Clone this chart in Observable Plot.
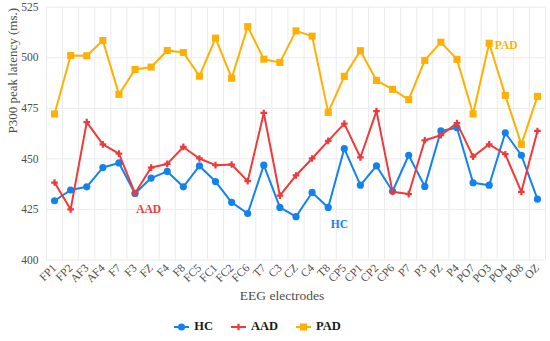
<!DOCTYPE html>
<html>
<head>
<meta charset="utf-8">
<script src="https://cdn.jsdelivr.net/npm/d3@7"></script>
<script src="https://cdn.jsdelivr.net/npm/@observablehq/plot@0.6"></script>
<style>
  html, body { margin: 0; padding: 0; background: #fff; }
  #chart { width: 550px; }
  .legend { display: flex; justify-content: center; align-items: center; height: 29px; padding-right: 35px;
    font-family: "Liberation Serif", serif; font-weight: bold; font-size: 12.5px; color: #1a1a1a; }
  .legend .item { display: flex; align-items: center; margin: 0 9px; }
  .legend svg { margin-right: 5px; }
</style>
</head>
<body>
<div id="chart"></div>
<script>
const electrodes = ["FP1","FP2","AF3","AF4","F7","F3","FZ","F4","F8","FC5","FC1","FC2","FC6","T7","C3","CZ","C4","T8","CP5","CP1","CP2","CP6","P7","P3","PZ","P4","PO7","PO3","PO4","PO8","OZ"];
const hc  = [429.3,434.6,436.2,445.7,448.0,432.9,440.5,443.8,436.2,446.5,438.8,428.5,423.0,446.9,426.0,421.4,433.4,426.0,455.1,437.0,446.5,434.0,451.8,436.4,463.8,465.4,438.2,437.0,462.9,451.8,430.1];
const aad = [438.3,425.0,468.2,457.2,452.6,433.0,445.7,447.5,455.9,450.2,446.9,447.2,439.0,472.7,431.8,441.8,450.2,458.9,467.4,450.7,473.6,433.7,432.6,459.2,461.7,467.7,451.1,457.2,452.3,433.7,463.8];
const pad = [472.2,501.1,501.0,508.5,481.9,494.2,495.4,503.6,502.6,490.9,509.7,489.9,515.4,499.3,497.7,513.3,510.7,473.0,490.8,503.5,488.8,484.4,479.3,498.7,507.7,499.2,472.2,507.2,481.4,457.2,480.9];
const groups = ["HC","AAD","PAD"];
const colors = ["#1283EE","#F0393A","#FFB000"];
const symbols = ["circle","cross","square"];
const yTicks = [400,425,450,475,500,525];
const annotations = [
  {group:"AAD", i:5.85, v:425.0},
  {group:"HC",  i:17.7, v:417.5},
  {group:"PAD", i:28.06, v:506.0}
];

const values = {HC: hc, AAD: aad, PAD: pad};
const rows = groups.flatMap(g => values[g].map((v, i) => ({group: g, i, name: electrodes[i], value: v})));
const gridX = electrodes.map((d, i) => i - 0.5).concat([electrodes.length - 0.5]);
const radius = {HC: 3.6, AAD: 2.8, PAD: 4.0};

const marks = [
  Plot.ruleY(yTicks, {stroke: "#ebebeb", strokeWidth: 1}),
  Plot.ruleX(gridX, {stroke: "#ebebeb", strokeWidth: 1}),
];
groups.forEach((g, k) => {
  const data = rows.filter(d => d.group === g);
  marks.push(Plot.line(data, {x: "i", y: "value", stroke: colors[k], strokeWidth: 2}));
  marks.push(Plot.dot(data, {x: "i", y: "value", fill: colors[k], stroke: "none", symbol: symbols[k], r: radius[g]}));
});
marks.push(Plot.text(annotations, {x: "i", y: "v", text: "group", fill: d => colors[groups.indexOf(d.group)],
  fontWeight: "bold", fontSize: 11.5}));
marks.push(Plot.text(["P300 peak latency (ms.)"], {frameAnchor: "left", rotate: -90, dx: -34, fontSize: 13, fill: "#4d4d4d"}));
marks.push(Plot.text(["EEG electrodes"], {frameAnchor: "bottom", dx: -14, dy: 40, fontSize: 13.5, fill: "#4d4d4d"}));

const chart = Plot.plot({
  width: 550,
  height: 312,
  marginLeft: 46,
  marginRight: 5,
  marginTop: 6.7,
  marginBottom: 52.5,
  style: {fontFamily: "Liberation Serif, serif", fontSize: "11.5px", color: "#4d4d4d", background: "#fff", overflow: "visible"},
  x: {type: "linear", domain: [-0.5, electrodes.length - 0.5], ticks: electrodes.map((d, i) => i),
      tickFormat: i => electrodes[i], tickRotate: -45, tickSize: 0, tickPadding: 6, label: null},
  y: {domain: [400, 525], ticks: yTicks, tickSize: 0, tickPadding: 8, label: null},
  marks
});
document.getElementById("chart").appendChild(chart);

// legend
const legend = document.createElement("div");
legend.className = "legend";
groups.forEach((g, k) => {
  const item = document.createElement("div");
  item.className = "item";
  const sw = d3.create("svg").attr("width", 15).attr("height", 10);
  sw.append("line").attr("x1", 0).attr("x2", 15).attr("y1", 5).attr("y2", 5).attr("stroke", colors[k]).attr("stroke-width", 2);
  const sym = {circle: d3.symbolCircle, cross: d3.symbolCross, square: d3.symbolSquare}[symbols[k]];
  sw.append("path").attr("transform", "translate(7.5,5)").attr("d", d3.symbol(sym, Math.PI * radius[g] * radius[g])()).attr("fill", colors[k]);
  item.appendChild(sw.node());
  const t = document.createElement("span");
  t.textContent = g;
  item.appendChild(t);
  legend.appendChild(item);
});
document.getElementById("chart").appendChild(legend);
</script>
</body>
</html>
